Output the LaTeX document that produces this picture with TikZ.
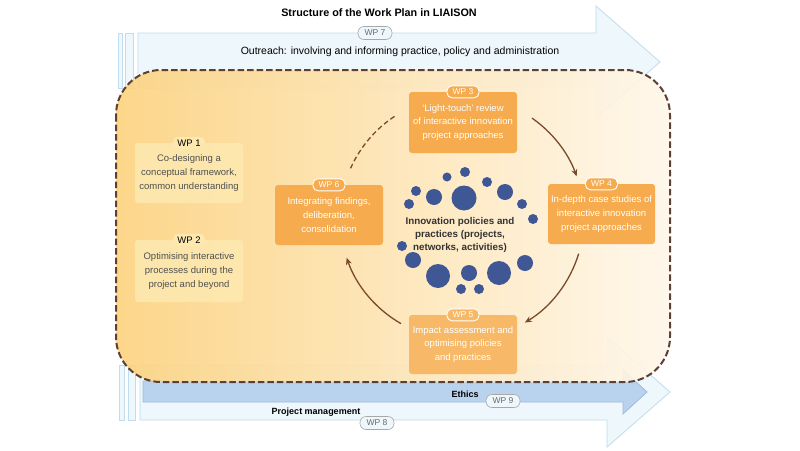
\documentclass[tikz,border=0pt]{standalone}
\usepackage{fontspec}
\setmainfont{Liberation Sans}
\usetikzlibrary{arrows.meta,calc}
\definecolor{arrowfill}{HTML}{EEF7FC}
\definecolor{arrowline}{HTML}{BFDDEE}
\definecolor{ethfill}{HTML}{B9D3EE}
\definecolor{ethline}{HTML}{9DBBDC}
\definecolor{boxorange}{HTML}{F5AB4E}
\definecolor{boxorangelt}{HTML}{F7B867}
\definecolor{boxyellow}{HTML}{FDE9B0}
\definecolor{flowbrown}{HTML}{7A4A2C}
\definecolor{borderbrown}{HTML}{5C4033}
\definecolor{bubblue}{HTML}{3F5795}
\definecolor{orA}{HTML}{FCD27E}
\definecolor{orB}{HTML}{FFEBC4}
\definecolor{orC}{HTML}{FFF7EA}
\definecolor{greytext}{HTML}{505050}
\definecolor{labelgrey}{HTML}{6A6A6A}
\definecolor{labelline}{HTML}{A8A8A8}
\begin{document}
\begin{tikzpicture}[x=1pt,y=1pt,
  bluearrow/.style={fill=arrowfill,draw=arrowline,line width=0.8pt},
  etharrow/.style={fill=ethfill,draw=ethline,line width=0.8pt},
  regionborder/.style={draw=borderbrown,line width=2pt,dash pattern=on 6.5pt off 3pt},
  ybox/.style={fill=boxyellow,fill opacity=0.85,text opacity=1,rounded corners=3pt,minimum width=108pt,minimum height=60pt,align=center,text=greytext,font=\fontsize{9.5}{14.2}\selectfont,inner sep=0pt},
  obox/.style={fill=boxorange,rounded corners=3pt,minimum width=108pt,minimum height=60pt,align=center,text=white,font=\fontsize{9.5}{13.8}\selectfont,inner sep=0pt},
  opill/.style={fill=boxorange,draw=white,line width=0.9pt,rounded corners=5pt,minimum width=32pt,minimum height=12pt,inner sep=0pt,text=white,font=\fontsize{8.5}{9}\selectfont},
  ypill/.style={fill=boxyellow,rounded corners=5pt,minimum width=32pt,minimum height=12pt,inner sep=0pt,text=black,font=\fontsize{9.5}{10}\selectfont},
  bluelabel/.style={fill=arrowfill,draw=labelline,line width=0.6pt,rounded corners=6pt,minimum width=34pt,minimum height=13pt,inner sep=0pt,text=labelgrey,font=\fontsize{8.5}{9}\selectfont},
  flow/.style={draw=flowbrown,line width=1.3pt,-{Stealth[length=7pt,width=6pt]}},
  flowdash/.style={draw=flowbrown,line width=1.3pt,dash pattern=on 5pt off 3pt},
  bubble/.style={fill=bubblue}
]
\useasboundingbox (0,0) rectangle (800,-450);
\fill[white] (0,0) rectangle (800,-450);

% WP7 outreach arrow
\draw[bluearrow] (118,-33) rectangle (122,-88);
\draw[bluearrow] (125,-33) rectangle (133,-88);
\draw[bluearrow] (138,-33) -- (596,-33) -- (596,-6) -- (660,-62) -- (596,-118) -- (596,-88) -- (138,-88) -- cycle;

% WP8 project management arrow
\draw[bluearrow] (119,-365) rectangle (124,-420);
\draw[bluearrow] (128,-365) rectangle (135,-420);
\draw[bluearrow] (140,-365) -- (607,-365) -- (607,-337) -- (670,-392) -- (607,-447) -- (607,-420) -- (140,-420) -- cycle;

% WP9 ethics arrow
\draw[etharrow] (143,-381) -- (623,-381) -- (623,-370) -- (647,-392) -- (623,-414) -- (623,-402) -- (143,-402) -- cycle;

% project region
\shade[left color=orA,middle color=orB,right color=orC,fill opacity=0.9,rounded corners=45pt] (116,-70) rectangle (670,-382);
\draw[regionborder,rounded corners=45pt] (116,-70) rectangle (670,-382);

% boxes
\node[ybox] (wp1) at (189,-173) {Co-designing a\\conceptual framework,\\common understanding};
\node[ybox,minimum height=62pt] (wp2) at (189,-271) {Optimising interactive\\processes during the\\project and beyond};
\node[ypill] (l1) at (wp1.north) {WP 1};
\node[ypill] (l2) at (wp2.north) {WP 2};

\node[obox,minimum height=61pt] (wp3) at (463,-122.5) {`Light-touch' review\\of interactive innovation\\project approaches};
\node[obox,minimum width=107pt] (wp4) at (601.5,-214) {In-depth case studies of\\interactive innovation\\project approaches};
\node[obox,fill=boxorangelt,minimum height=59pt] (wp5) at (463,-344.5) {Impact assessment and\\optimising policies\\and practices};
\node[obox] (wp6) at (329,-215) {Integrating findings,\\deliberation,\\consolidation};
\node[opill] (l3) at (wp3.north) {WP 3};
\node[opill] (l4) at (wp4.north) {WP 4};
\node[opill,fill=boxorangelt] (l5) at (wp5.north) {WP 5};
\node[opill] (l6) at (wp6.north) {WP 6};

% cycle connectors
\coordinate (hub) at (462,-218);
\coordinate (s6) at ($(hub)+(156:122)$);
\coordinate (s3) at ($(hub)+(55:122)$);
\coordinate (s4) at ($(hub)+(-17:122)$);
\coordinate (s5) at ($(hub)+(-120:122)$);
\draw[flowdash] (s6) arc[start angle=156,end angle=123,radius=122];
\draw[flow] (s3) arc[start angle=55,end angle=20,radius=122];
\draw[flow] (s4) arc[start angle=-17,end angle=-59,radius=122];
\draw[flow] (s5) arc[start angle=-120,end angle=-161,radius=122];

% bubbles
\foreach \bx/\by/\br in {465/172/5, 447/177/4.5, 487/182/5, 505/192/8, 464/198/12.5, 434/197/8, 416/191/5, 409/204/5, 522/204/5, 533/219/5, 402/246/5, 413/260/8, 438/276/12, 469/273/8, 499/273/12, 525/263/8, 461/289/5, 479/289/5}
  \fill[bubble] (\bx,-\by) circle (\br);

\node[align=center,text=black!80,font=\bfseries\fontsize{9.8}{13}\selectfont] (core) at (460,-235) {Innovation policies and\\practices (projects,\\networks, activities)};

% titles and arrow labels
\node[font=\bfseries\fontsize{10.8}{12}\selectfont] (title) at (379,-13) {Structure of the Work Plan in LIAISON};
\node[bluelabel] (wp7) at (375,-33) {WP 7};
\node[font=\fontsize{10.5}{12}\selectfont] (outreach) at (400,-52) {Outreach: involving and informing practice, policy and administration};
\node[font=\bfseries\fontsize{9}{10}\selectfont] (ethics) at (465,-394) {Ethics};
\node[bluelabel] (wp9) at (503,-401) {WP 9};
\node[font=\bfseries\fontsize{9}{10}\selectfont] (pm) at (316,-412) {Project management};
\node[bluelabel] (wp8) at (377,-423) {WP 8};
\end{tikzpicture}
\end{document}
